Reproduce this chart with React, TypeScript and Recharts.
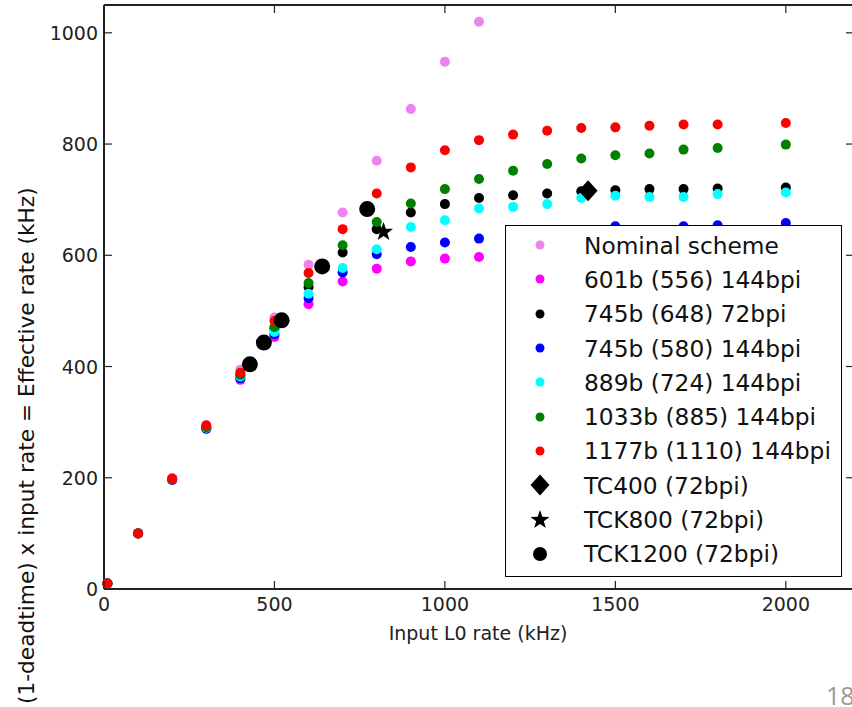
import { ScatterChart, Scatter, XAxis, YAxis, ReferenceLine, Legend } from "recharts"

// input L0 rate (kHz) at which every scheme was simulated
const rateX = [10, 100, 200, 300, 400, 500, 600, 700, 800, 900, 1000, 1100, 1200, 1300, 1400, 1500, 1600, 1700, 1800, 2000]

// effective rate (kHz) per scheme, same order as rateX
const nominalY = [10, 100, 200, 295, 394, 488, 583, 677, 770, 863, 948, 1020]
const b601Y = [10, 100, 196, 288, 376, 453, 512, 553, 576, 589, 594, 597, 598, 599, 600, 600, 601, 601, 601, 602]
const b745x72Y = [10, 100, 197, 290, 384, 468, 543, 605, 647, 677, 692, 703, 708, 711, 715, 717, 719, 719, 720, 722]
const b745x144Y = [10, 100, 196, 288, 379, 458, 523, 569, 602, 615, 623, 630, 636, 640, 643, 652, 645, 652, 654, 658]
const b889Y = [10, 100, 197, 290, 382, 462, 531, 577, 611, 651, 663, 684, 687, 692, 703, 707, 705, 705, 710, 713]
const b1033Y = [10, 100, 197, 291, 385, 471, 550, 618, 660, 693, 719, 737, 752, 764, 774, 780, 783, 790, 793, 799]
const b1177Y = [10, 100, 198, 294, 389, 482, 568, 647, 711, 758, 789, 807, 817, 824, 829, 830, 833, 835, 835, 838]

// measured hardware points
const tc400X = [1420]
const tc400Y = [716]
const tck800X = [820]
const tck800Y = [642]
const tck1200X = [428, 469, 521, 640, 772]
const tck1200Y = [404, 443, 483, 580, 683]

const xTicks = [0, 500, 1000, 1500, 2000]
const yTicks = [0, 200, 400, 600, 800, 1000]

const PLOT_TOP = 5
const PLOT_RIGHT = 854
const PLOT_BOTTOM = 589
const AXIS = "#222"
const FONT = "DejaVu Sans"

const toPoints = (xs: number[], ys: number[]) => ys.map((y, i) => ({ x: xs[i], y }))

type Kind = "dot" | "diamond" | "star" | "big"

function starPath(cx: number, cy: number, ro: number, ri: number) {
  let d = ""
  for (let i = 0; i < 10; i++) {
    const r = i % 2 === 0 ? ro : ri
    const a = -Math.PI / 2 + (i * Math.PI) / 5
    d += (i === 0 ? "M" : "L") + (cx + r * Math.cos(a)).toFixed(2) + "," + (cy + r * Math.sin(a)).toFixed(2)
  }
  return d + "Z"
}

function Marker({ kind, color, cx, cy, legend }: { kind: Kind; color: string; cx: number; cy: number; legend?: boolean }) {
  if (kind === "diamond") {
    const w = 9.5
    const h = 10.5
    return <path d={`M${cx},${cy - h}L${cx + w},${cy}L${cx},${cy + h}L${cx - w},${cy}Z`} fill={color} />
  }
  if (kind === "star") return <path d={starPath(cx, cy, 10, 4)} fill={color} />
  if (kind === "big") return <circle cx={cx} cy={cy} r={legend ? 7 : 8} fill={color} />
  return <circle cx={cx} cy={cy} r={legend ? 4.5 : 5} fill={color} />
}

const series: { name: string; color: string; kind: Kind; data: { x: number; y: number }[] }[] = [
  { name: "Nominal scheme", color: "#ee82ee", kind: "dot", data: toPoints(rateX, nominalY) },
  { name: "601b (556) 144bpi", color: "#ff00ff", kind: "dot", data: toPoints(rateX, b601Y) },
  { name: "745b (648) 72bpi", color: "#000000", kind: "dot", data: toPoints(rateX, b745x72Y) },
  { name: "745b (580) 144bpi", color: "#0000ff", kind: "dot", data: toPoints(rateX, b745x144Y) },
  { name: "889b (724) 144bpi", color: "#00ffff", kind: "dot", data: toPoints(rateX, b889Y) },
  { name: "1033b (885) 144bpi", color: "#008000", kind: "dot", data: toPoints(rateX, b1033Y) },
  { name: "1177b (1110) 144bpi", color: "#ff0000", kind: "dot", data: toPoints(rateX, b1177Y) },
  { name: "TC400 (72bpi)", color: "#000000", kind: "diamond", data: toPoints(tc400X, tc400Y) },
  { name: "TCK800 (72bpi)", color: "#000000", kind: "star", data: toPoints(tck800X, tck800Y) },
  { name: "TCK1200 (72bpi)", color: "#000000", kind: "big", data: toPoints(tck1200X, tck1200Y) },
]

function XTick(props: any) {
  const { x, y, payload } = props
  return (
    <g>
      <line x1={x} y1={PLOT_BOTTOM} x2={x} y2={PLOT_BOTTOM - 8} stroke={AXIS} strokeWidth={1.2} />
      <line x1={x} y1={PLOT_TOP} x2={x} y2={PLOT_TOP + 8} stroke={AXIS} strokeWidth={1.2} />
      <text x={x} y={y + 22} textAnchor="middle" fontSize={19} fontFamily={FONT} fill="#222">
        {payload.value}
      </text>
    </g>
  )
}

function YTick(props: any) {
  const { x, y, payload } = props
  return (
    <g>
      <line x1={x} y1={y} x2={x + 8} y2={y} stroke={AXIS} strokeWidth={1.2} />
      <line x1={PLOT_RIGHT - 8} y1={y} x2={PLOT_RIGHT} y2={y} stroke={AXIS} strokeWidth={1.2} />
      <text x={x - 6} y={y + 7} textAnchor="end" fontSize={19} fontFamily={FONT} fill="#222">
        {payload.value}
      </text>
    </g>
  )
}

function LegendBox() {
  return (
    <div
      style={{
        width: 337,
        height: 352,
        boxSizing: "border-box",
        border: "1.5px solid #000",
        background: "#fff",
        paddingTop: 2,
        fontFamily: FONT,
        fontSize: 23.3,
        color: "#111",
      }}
    >
      {series.map((s) => (
        <div key={s.name} style={{ height: 34.3, display: "flex", alignItems: "center" }}>
          <svg width={60} height={30} style={{ marginLeft: 3, flex: "none" }}>
            <Marker kind={s.kind} color={s.color} cx={31} cy={15} legend />
          </svg>
          <span style={{ marginLeft: 15, whiteSpace: "nowrap" }}>{s.name}</span>
        </div>
      ))}
    </div>
  )
}

export default function App() {
  return (
    <div style={{ position: "fixed", left: 0, top: 0, width: 852, height: 707, overflow: "hidden", background: "#fff" }}>
      <ScatterChart width={870} height={707} margin={{ top: PLOT_TOP, right: 16, bottom: 0, left: 0 }}>
        <XAxis
          type="number"
          dataKey="x"
          domain={[0, 2200]}
          ticks={xTicks}
          interval={0}
          height={118}
          tickSize={0}
          tickMargin={0}
          tickLine={false}
          axisLine={{ stroke: AXIS, strokeWidth: 2 }}
          tick={<XTick />}
          label={{
            content: () => (
              <text x={478} y={640} textAnchor="middle" fontSize={19} fontFamily={FONT} fill="#222">
                Input L0 rate (kHz)
              </text>
            ),
          }}
        />
        <YAxis
          type="number"
          dataKey="y"
          domain={[0, 1050]}
          ticks={yTicks}
          interval={0}
          width={104}
          tickSize={0}
          tickMargin={0}
          tickLine={false}
          axisLine={{ stroke: AXIS, strokeWidth: 2 }}
          tick={<YTick />}
          label={{
            content: () => (
              <text transform="rotate(-90)" x={-704} y={34} textAnchor="start" fontSize={21.7} fontFamily={FONT} fill="#111">
                (1-deadtime) x input rate = Effective rate (kHz)
              </text>
            ),
          }}
        />
        <ReferenceLine y={1050} stroke={AXIS} strokeWidth={2} />
        <ReferenceLine x={2200} stroke={AXIS} strokeWidth={2} />
        {series.map((s) => (
          <Scatter
            key={s.name}
            name={s.name}
            data={s.data}
            fill={s.color}
            isAnimationActive={false}
            shape={(p: any) => <Marker kind={s.kind} color={s.color} cx={p.cx} cy={p.cy} />}
          />
        ))}
        <Legend
          layout="vertical"
          align="center"
          verticalAlign="middle"
          content={<LegendBox />}
          wrapperStyle={{ position: "absolute", left: 505, top: 225, width: 337, height: 352 }}
        />
      </ScatterChart>
      <div style={{ position: "absolute", left: 826, top: 678, fontFamily: "Open Sans", fontSize: 25, color: "#9a9a9a" }}>
        18
      </div>
    </div>
  )
}
